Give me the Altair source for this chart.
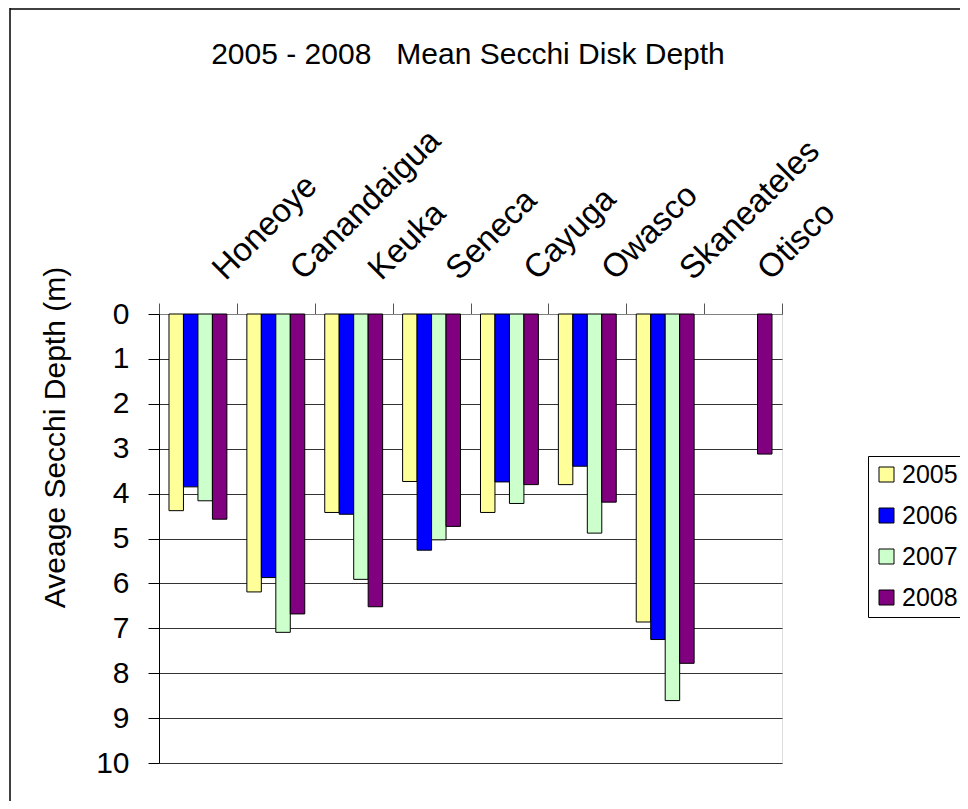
import altair as alt
import pandas as pd

FONT = "Liberation Sans"

title_text = "2005 - 2008\u00a0\u00a0 Mean Secchi Disk Depth"
y_title = "Aveage Secchi Depth (m)"
lakes = ["Honeoye", "Canandaigua", "Keuka", "Seneca", "Cayuga", "Owasco", "Skaneateles", "Otisco"]
years = ["2005", "2006", "2007", "2008"]
colors = ["#FFFF99", "#0000FF", "#CCFFCC", "#800080"]

depth_2005 = [4.38, 6.19, 4.42, 3.73, 4.42, 3.80, 6.86, None]
depth_2006 = [3.85, 5.87, 4.46, 5.26, 3.74, 3.39, 7.25, None]
depth_2007 = [4.16, 7.09, 5.91, 5.03, 4.22, 4.88, 8.61, None]
depth_2008 = [4.57, 6.68, 6.52, 4.73, 3.80, 4.19, 7.78, 3.12]

series = dict(zip(years, [depth_2005, depth_2006, depth_2007, depth_2008]))
rows = []
for yr, vals in series.items():
    for lake, v in zip(lakes, vals):
        if v is not None:
            rows.append({"Lake": lake, "Year": yr, "Depth": v})
df = pd.DataFrame(rows)

bars = alt.Chart(df).mark_bar(stroke="black", strokeWidth=1).encode(
    x=alt.X(
        "Lake:N",
        sort=lakes,
        scale=alt.Scale(domain=lakes, paddingInner=0, paddingOuter=0),
        axis=alt.Axis(
            orient="top",
            title=None,
            labelAngle=-45,
            labelAlign="left",
            labelBaseline="alphabetic",
            labelFontSize=33,
            labelFont=FONT,
            labelColor="black",
            labelOffset=27,
            labelPadding=22,
            labelLimit=400,
            tickBand="extent",
            tickSize=11,
            tickColor="#555555",
            domainColor="#808080",
            grid=False,
        ),
    ),
    xOffset=alt.XOffset(
        "Year:N",
        scale=alt.Scale(domain=years, paddingInner=0, paddingOuter=0.69),
    ),
    y=alt.Y(
        "Depth:Q",
        scale=alt.Scale(domain=[0, 10], reverse=True, nice=False, zero=True),
        axis=alt.Axis(
            values=list(range(0, 11)),
            format="d",
            title=y_title,
            titleFontSize=30,
            titleFont=FONT,
            titleFontWeight="normal",
            titleColor="black",
            titleAngle=-90,
            titleAlign="center",
            titleBaseline="bottom",
            titleX=-89,
            titleY=123,
            labelFontSize=30,
            labelFont=FONT,
            labelColor="black",
            labelPadding=19,
            tickSize=11,
            tickColor="black",
            domainColor="black",
            grid=True,
            gridColor="#333333",
            gridWidth=1,
        ),
    ),
    color=alt.Color(
        "Year:N",
        scale=alt.Scale(domain=years, range=colors),
        legend=alt.Legend(
            title=None,
            orient="none",
            legendX=709,
            legendY=142,
            direction="vertical",
            strokeColor="black",
            fillColor="white",
            padding=6,
            symbolType="square",
            symbolSize=225,
            symbolStrokeColor="black",
            symbolStrokeWidth=1,
            symbolOpacity=1,
            labelFontSize=25,
            labelFont=FONT,
            labelColor="black",
            labelOffset=3,
            rowPadding=15,
        ),
    ),
)

title_df = pd.DataFrame({"t": [title_text]})
title_mark = alt.Chart(title_df).mark_text(
    font=FONT, fontSize=30, color="black", align="center", baseline="alphabetic"
).encode(text="t:N", x=alt.value(309), y=alt.value(-250))

frame_df = pd.DataFrame({"k": [0]})
left_border = alt.Chart(frame_df).mark_rule(color="black", strokeWidth=1.5).encode(
    x=alt.value(-149), y=alt.value(-306), y2=alt.value(800)
)
top_border = alt.Chart(frame_df).mark_rule(color="black", strokeWidth=1.5).encode(
    x=alt.value(-149), x2=alt.value(900), y=alt.value(-305)
)

chart = alt.layer(bars, title_mark, left_border, top_border).properties(
    width=623,
    height=449,
    autosize=alt.AutoSizeParams(type="none"),
    padding={"left": 151, "top": 306, "right": 178, "bottom": 38},
).configure_view(stroke="#808080", strokeWidth=1).configure(background="white")

chart.save("out.html", embed_options={"renderer": "svg", "actions": False})
